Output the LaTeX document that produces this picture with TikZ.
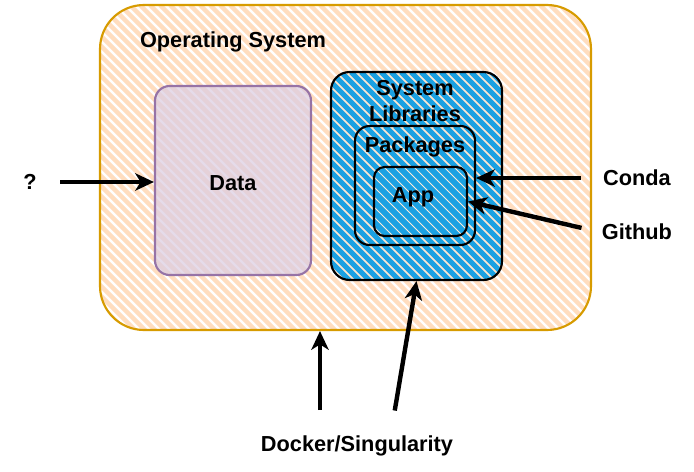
\documentclass[tikz,border=0pt]{standalone}
\usepackage{fontspec}
\setmainfont{Liberation Sans}
\usetikzlibrary{fit,arrows.meta}
\definecolor{osline}{HTML}{D79B00}
\definecolor{osfill}{HTML}{FFDDBF}
\definecolor{dataline}{HTML}{9673A6}
\definecolor{datafill}{HTML}{E1D5E7}
\definecolor{libblue}{HTML}{1BA1E2}
\tikzset{
    box/.style={inner sep=0pt, line width=1.6pt},
    hatched/.style n args={2}{path picture={
        \foreach \k in {-45,...,60}
            \draw[#1, line width=#2]
                ([shift={(\k*10,0)}]path picture bounding box.north west) -- ++(420,420);}},
    osbox/.style={box, draw=osline, rounded corners=33pt, hatched={osfill}{3.2pt}},
    databox/.style={box, draw=dataline, rounded corners=11pt, fill=datafill!92!dataline, fill opacity=0.72},
    libbox/.style={box, draw=black, rounded corners=#1, fill=osfill!75!white, hatched={libblue}{3.9pt}},
    appbox/.style={box, draw=black, rounded corners=8pt, fill=libblue, hatched={osfill!60!white}{0.7pt}},
    lbl/.style={font=\bfseries\fontsize{16.3}{20}\selectfont, align=center, inner sep=2pt},
    arr/.style={line width=3.3pt, -{Stealth[length=14pt,width=13pt,inset=4pt]}}
}
\begin{document}
\begin{tikzpicture}[x=0.75pt,y=-0.75pt]
    \useasboundingbox (0,0) rectangle (694,472);
    \node[osbox, fit={(100,5) (591,330)}] (os) {};
    \node[databox, fit={(155,86) (311,275)}] (data) {};
    \node[libbox=14pt, fit={(331,72) (502,280)}] (syslib) {};
    \node[libbox=11pt, fit={(355,126) (475,245)}] (pkgs) {};
    \node[appbox, fit={(374,167) (467,236)}] (app) {};

    \node[lbl] (ostitle) at (233,42) {Operating System};
    \node[lbl] (datalbl) at (233,183) {Data};
    \node[lbl] (sltitle) at (415,101) {System\\Libraries};
    \node[lbl] (pkgtitle) at (415,147) {Packages};
    \node[lbl] (applbl) at (413,197) {App};

    \node[lbl] (q) at (30,182) {?};
    \node[lbl] (conda) at (637,178) {Conda};
    \node[lbl] (github) at (637,232) {Github};
    \node[lbl] (docker) at (357,446) {Docker/Singularity};

    \draw[arr, shorten <=15.5pt] (q.east) -- (q.east -| data.west);
    \draw[arr, shorten <=14.5pt] (conda.west) -- (conda.west -| pkgs.east);
    \draw[arr, shorten <=13.5pt] (github.west) -- (app.east);
    \draw[arr, shorten <=17pt] ([shift={(-37,0)}]docker.north) -- ([shift={(-25.5,0)}]os.south);
    \draw[arr, shorten <=17pt] ([shift={(34,0)}]docker.north) -- (syslib.south);
\end{tikzpicture}
\end{document}
